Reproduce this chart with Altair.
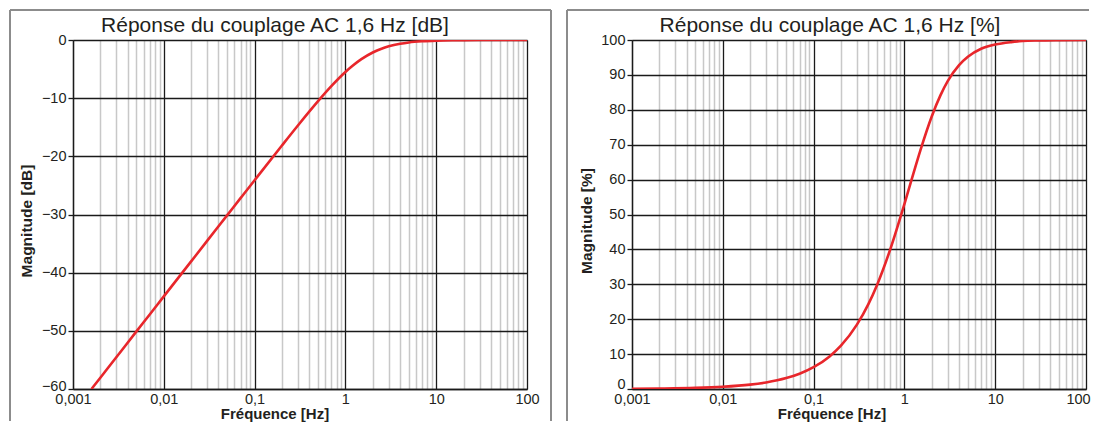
import altair as alt
import pandas as pd

# ---------------- data ----------------
FREQ_DB = [0.0016, 0.002, 0.003, 0.005, 0.007, 0.01, 0.02, 0.03, 0.05, 0.07,
           0.1, 0.2, 0.3, 0.5, 0.7, 1.0, 1.2, 1.5, 2.0, 2.5, 3.0, 4.0, 5.0,
           7.0, 10.0, 15.0, 20.0, 30.0, 50.0, 100.0]
MAG_DB = [-60.0, -58.06, -54.54, -50.10, -47.18, -44.08, -38.06, -34.54, -30.11, -27.19,
          -24.10, -18.13, -14.69, -10.51, -7.94, -5.51, -4.44, -3.30, -2.15, -1.49, -1.09, -0.65, -0.42,
          -0.22, -0.11, -0.05, -0.03, -0.01, 0.0, 0.0]

FREQ_PCT = [0.001, 0.002, 0.005, 0.01, 0.02, 0.03, 0.05, 0.07, 0.1, 0.15,
            0.2, 0.3, 0.4, 0.5, 0.7, 1.0, 1.2, 1.5, 2.0, 2.5, 3.0, 4.0, 5.0,
            7.0, 10.0, 15.0, 20.0, 30.0, 50.0, 100.0]
MAG_PCT = [0.06, 0.13, 0.31, 0.63, 1.25, 1.87, 3.12, 4.37, 6.24, 9.33,
           12.40, 18.43, 24.25, 29.83, 40.08, 53.0, 60.0, 68.4, 78.1, 84.2, 88.2, 92.8, 95.2,
           97.5, 98.7, 99.4, 99.7, 99.86, 99.95, 100.0]

X_MAJOR = [0.001, 0.01, 0.1, 1, 10, 100]
X_LABELS = ["0,001", "0,01", "0,1", "1", "10", "100"]
Y_TICKS_DB = [-60, -50, -40, -30, -20, -10, 0]
Y_TICKS_PCT = [0, 10, 20, 30, 40, 50, 60, 70, 80, 90, 100]

TITLES = ["Réponse du couplage AC 1,6 Hz [dB]", "Réponse du couplage AC 1,6 Hz [%]"]
Y_TITLES = ["Magnitude [dB]", "Magnitude [%]"]
X_TITLE = "Fréquence [Hz]"

# grid positions (1..9 per decade)
X_GRID = [round(m * k, 6) for m in X_MAJOR[:-1] for k in range(1, 10)] + [X_MAJOR[-1]]

FONT = "Liberation Sans"
INK = "#231f20"
RED = "#e8262b"
BORDER = "#8c8c8c"

W, H = 454, 349

major_test = "abs(log(datum.value)/LN10 - round(log(datum.value)/LN10)) < 0.001"
label_expr = ""
for v, lab in zip(X_MAJOR, X_LABELS):
    label_expr += f"abs(datum.value - {v}) < {v * 1e-4} ? '{lab}' : "
label_expr += "''"


def x_axis(last_shift):
    return alt.Axis(
        values=X_GRID, labelExpr=label_expr, title=None,
        grid=True,
        gridColor={"condition": {"test": major_test, "value": "#1a1a1a"}, "value": "#c8c8c8"},
        gridWidth={"condition": {"test": major_test, "value": 1.3}, "value": 1.5},
        ticks=False, domain=True, domainColor="#1a1a1a", domainWidth=1.3,
        labelFont=FONT, labelFontSize=14.5, labelColor=INK, labelPadding=3.5,
        labelOffset={"condition": {"test": "datum.value > 99", "value": last_shift}, "value": 0},
        labelOverlap=False, labelFlush=False, labelBound=False,
    )


def y_axis(vals, low_shift):
    return alt.Axis(
        values=vals, title=None, grid=True, gridColor="#1a1a1a", gridWidth=1.3,
        ticks=True, tickSize=5, tickColor="#1a1a1a", tickWidth=1.3,
        domain=True, domainColor="#1a1a1a", domainWidth=1.3,
        labelFont=FONT, labelFontSize=14.5, labelColor=INK, labelPadding=2,
        labelOffset={"condition": {"test": f"datum.value == {vals[0]}", "value": low_shift}, "value": 0},
        labelOverlap=False, labelFlush=False, labelBound=False,
    )


def one(df_x, df_y, ydomain, yticks, title, ytitle, border_left, border_right,
        title_x, ytitle_x, xtitle_x, top_right, last_shift, low_shift):
    df = pd.DataFrame({"f": df_x, "m": df_y})
    line = alt.Chart(df).mark_line(color=RED, strokeWidth=2.6, interpolate="monotone", clip=True).encode(
        x=alt.X("f:Q", scale=alt.Scale(type="log", domain=[0.001, 100], nice=False), axis=x_axis(last_shift)),
        y=alt.Y("m:Q", scale=alt.Scale(domain=ydomain, nice=False, zero=False), axis=y_axis(yticks, low_shift)),
    )
    one_row = pd.DataFrame({"t": [title], "yt": [ytitle], "xt": [X_TITLE]})
    ttl = alt.Chart(one_row).mark_text(font=FONT, fontSize=21, color=INK, align="center",
                                      baseline="alphabetic").encode(
        text="t:N", x=alt.value(title_x), y=alt.value(-8))
    ytl = alt.Chart(one_row).mark_text(font=FONT, fontSize=15.5, fontWeight="bold", color=INK,
                                      align="center", baseline="middle", angle=270).encode(
        text="yt:N", x=alt.value(ytitle_x), y=alt.value(181))
    xtl = alt.Chart(one_row).mark_text(font=FONT, fontSize=15, fontWeight="bold", color=INK,
                                      align="center", baseline="alphabetic").encode(
        text="xt:N", x=alt.value(xtitle_x), y=alt.value(H + 30))
    layers = [line, ttl, ytl, xtl]
    # panel frame (left, top, optional right edges)
    layers.append(alt.Chart(one_row).mark_rule(color=BORDER, strokeWidth=2).encode(
        x=alt.value(border_left), y=alt.value(-30), y2=alt.value(H + 32)))
    layers.append(alt.Chart(one_row).mark_rule(color=BORDER, strokeWidth=2).encode(
        x=alt.value(border_left), x2=alt.value(top_right), y=alt.value(-30)))
    if border_right is not None:
        layers.append(alt.Chart(one_row).mark_rule(color=BORDER, strokeWidth=2).encode(
            x=alt.value(border_right), y=alt.value(-30), y2=alt.value(H + 32)))
    return alt.layer(*layers).properties(width=W, height=H)


left = one(FREQ_DB, MAG_DB, [-60, 0], Y_TICKS_DB, TITLES[0], Y_TITLES[0],
           -63, 478, 202, -46, 202, 478, 0, -3)
right = one(FREQ_PCT, MAG_PCT, [0, 100], Y_TICKS_PCT, TITLES[1], Y_TITLES[1],
            -65, None, 198, -45, 200, 457, -8, -5)

chart = alt.hconcat(left, right, spacing=12).properties(padding=0).configure_view(
    stroke="#1a1a1a", strokeWidth=1.3
).configure(background="white")

chart.save("out.html", embed_options={"renderer": "svg", "actions": False})
